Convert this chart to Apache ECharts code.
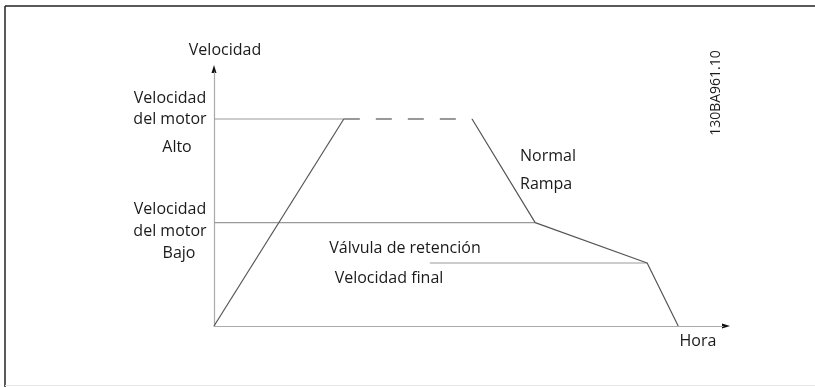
<!DOCTYPE html>
<html>
<head>
<meta charset="utf-8">
<script src="https://cdn.jsdelivr.net/npm/echarts@6/dist/echarts.min.js"></script>
<style>
  html, body { margin: 0; padding: 0; background: #fff; }
  #main { width: 815px; height: 387px; }
</style>
</head>
<body>
<div id="main"></div>
<script>
// perfil de velocidad (tiempo, velocidad) en unidades del eje 0-100
var rampUp = [[0, 0], [25.5, 81.5]];
var plateau = [[25.5, 81.5], [50.7, 81.5]];
var rampDown = [[50.7, 81.5], [63.1, 40.7], [85.1, 24.8], [91.2, 0]];
// lineas de referencia
var highLine = [[0, 81.5], [25.5, 81.5]];
var lowLine = [[0, 40.7], [63.1, 40.7]];
var finalLine = [[42.4, 24.8], [85.1, 24.8]];
// etiquetas de nivel: texto y desplazamiento vertical respecto a la linea
var highLabels = ['Velocidad', 'del motor', 'Alto'];
var highOffsets = [-21, 0, 28];
var lowLabels = ['Velocidad', 'del motor', 'Bajo'];
var lowOffsets = [-13, 9, 31];

var font = '"Open Sans", sans-serif';
var textColor = '#1a1a1a';

var myChart = echarts.init(document.getElementById('main'));

function line(data, color, dash) {
  return {
    type: 'line',
    data: data,
    symbol: 'none',
    silent: true,
    animation: false,
    lineStyle: { color: color, width: 1.2, type: dash || 'solid' }
  };
}

myChart.setOption({
  backgroundColor: '#fff',
  grid: { left: 214, right: 92, top: 72, bottom: 61 },
  xAxis: {
    type: 'value', min: 0, max: 100,
    axisLine: { lineStyle: { color: '#aaa', width: 1.2 } },
    axisTick: { show: false }, axisLabel: { show: false }, splitLine: { show: false }
  },
  yAxis: {
    type: 'value', min: 0, max: 100,
    axisLine: { lineStyle: { color: '#aaa', width: 1.2 } },
    axisTick: { show: false }, axisLabel: { show: false }, splitLine: { show: false }
  },
  series: [
    line(highLine, '#999'),
    line(lowLine, '#999'),
    line(finalLine, '#999'),
    line(rampUp, '#555'),
    line(plateau, '#555', [16, 16]),
    line(rampDown, '#555')
  ]
});

function txt(x, y, s, align, size) {
  return { type: 'text', x: x, y: y, style: { text: s, font: (size || 16) + 'px ' + font, fill: textColor, textAlign: align || 'left', textVerticalAlign: 'middle' } };
}

var origin = myChart.convertToPixel({ gridIndex: 0 }, [0, 0]);
var xEnd = myChart.convertToPixel({ gridIndex: 0 }, [100, 0]);
var yEnd = myChart.convertToPixel({ gridIndex: 0 }, [0, 100]);

var graphics = [
  { type: 'line', shape: { x1: 5, y1: 6, x2: 815, y2: 6 }, style: { stroke: '#222', lineWidth: 1.5 } },
  { type: 'line', shape: { x1: 5, y1: 6, x2: 5, y2: 387 }, style: { stroke: '#222', lineWidth: 1.5 } },
  { type: 'line', shape: { x1: 5, y1: 385.5, x2: 815, y2: 385.5 }, style: { stroke: '#e6e6e6', lineWidth: 1 } },
  // puntas de flecha de los ejes
  { type: 'polygon', shape: { points: [[xEnd[0] - 1, origin[1] - 2.5], [xEnd[0] + 7, origin[1]], [xEnd[0] - 1, origin[1] + 2.5]] }, style: { fill: '#111' } },
  { type: 'polygon', shape: { points: [[origin[0] - 2.5, yEnd[1] + 1], [origin[0], yEnd[1] - 7], [origin[0] + 2.5, yEnd[1] + 1]] }, style: { fill: '#111' } },
  txt(225, 50, 'Velocidad', 'center'),
  txt(698, 341, 'Hora', 'center'),
  txt(520, 156, 'Normal'),
  txt(520, 184, 'Rampa'),
  txt(405, 248, 'Válvula de retención', 'center'),
  txt(389, 278, 'Velocidad final', 'center'),
  { type: 'text', x: 716, y: 93, rotation: Math.PI / 2, style: { text: '130BA961.10', font: '14px ' + font, fill: textColor, textAlign: 'center', textVerticalAlign: 'middle' } }
];

var yHigh = myChart.convertToPixel({ yAxisIndex: 0 }, highLine[0][1]);
var yLow = myChart.convertToPixel({ yAxisIndex: 0 }, lowLine[0][1]);
highLabels.forEach(function (s, i) {
  graphics.push(txt(s === 'Alto' ? 177 : 170, yHigh + highOffsets[i], s, 'center'));
});
lowLabels.forEach(function (s, i) {
  graphics.push(txt(s === 'Bajo' ? 179 : 170, yLow + lowOffsets[i], s, 'center'));
});

myChart.setOption({ graphic: graphics });
</script>
</body>
</html>
